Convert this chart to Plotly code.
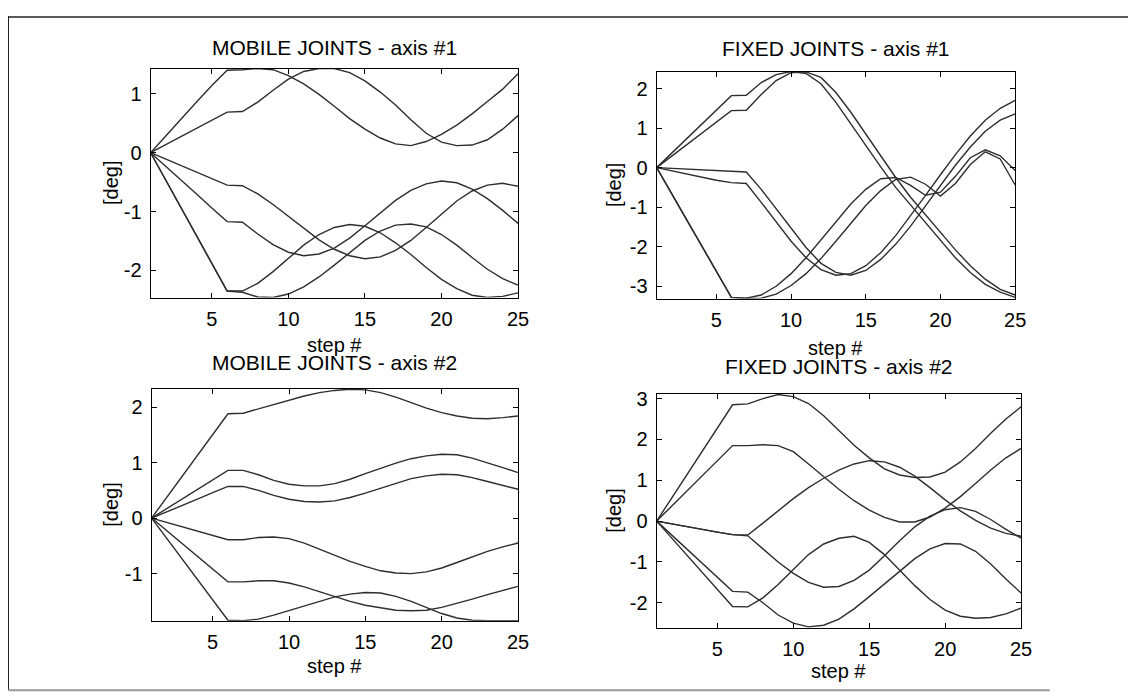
import plotly.graph_objects as go

# ---------------- data ----------------
steps = [1, 2, 3, 4, 5, 6, 7, 8, 9, 10, 11, 12, 13, 14, 15, 16, 17, 18, 19, 20, 21, 22, 23, 24, 25]
x_tick_vals = [5, 10, 15, 20, 25]
x_tick_text = ["5", "10", "15", "20", "25"]

# MOBILE JOINTS - axis #1
mob1_a = [0, 0.29, 0.57, 0.86, 1.14, 1.40, 1.41, 1.43, 1.41, 1.31, 1.17, 0.99, 0.79, 0.58, 0.40, 0.25, 0.15, 0.12, 0.19, 0.31, 0.47, 0.66, 0.87, 1.08, 1.34]
mob1_b = [0, 0.14, 0.28, 0.41, 0.55, 0.69, 0.70, 0.86, 1.06, 1.25, 1.38, 1.43, 1.43, 1.36, 1.22, 1.03, 0.81, 0.56, 0.33, 0.18, 0.12, 0.13, 0.22, 0.40, 0.63]
mob1_c = [0, -0.11, -0.22, -0.33, -0.44, -0.55, -0.56, -0.70, -0.88, -1.08, -1.29, -1.48, -1.64, -1.75, -1.80, -1.77, -1.66, -1.49, -1.27, -1.04, -0.82, -0.65, -0.55, -0.52, -0.57]
mob1_d = [0, -0.23, -0.47, -0.70, -0.94, -1.17, -1.18, -1.38, -1.56, -1.69, -1.75, -1.72, -1.62, -1.45, -1.24, -1.02, -0.81, -0.64, -0.53, -0.48, -0.51, -0.62, -0.78, -0.98, -1.20]
mob1_e = [0, -0.47, -0.94, -1.41, -1.88, -2.35, -2.35, -2.22, -2.02, -1.79, -1.57, -1.39, -1.27, -1.22, -1.25, -1.36, -1.53, -1.73, -1.95, -2.15, -2.31, -2.42, -2.46, -2.44, -2.38]
mob1_f = [0, -0.47, -0.94, -1.41, -1.88, -2.35, -2.37, -2.45, -2.46, -2.40, -2.28, -2.11, -1.91, -1.70, -1.49, -1.33, -1.23, -1.21, -1.26, -1.39, -1.57, -1.78, -1.98, -2.14, -2.25]

# FIXED JOINTS - axis #1
fix1_g1 = [0, 0.36, 0.73, 1.09, 1.46, 1.82, 1.83, 2.15, 2.35, 2.43, 2.38, 2.12, 1.65, 1.10, 0.55, 0.02, -0.50, -0.95, -1.40, -1.85, -2.28, -2.65, -2.95, -3.15, -3.28]
fix1_g2 = [0, 0.29, 0.58, 0.86, 1.15, 1.44, 1.45, 1.85, 2.20, 2.40, 2.42, 2.28, 1.90, 1.40, 0.85, 0.30, -0.25, -0.75, -1.20, -1.65, -2.08, -2.48, -2.82, -3.08, -3.22]
fix1_h1 = [0, -0.08, -0.16, -0.24, -0.32, -0.38, -0.40, -0.88, -1.38, -1.86, -2.28, -2.58, -2.72, -2.68, -2.48, -2.15, -1.72, -1.22, -0.70, -0.18, 0.33, 0.80, 1.20, 1.50, 1.70]
fix1_h2 = [0, -0.02, -0.04, -0.06, -0.08, -0.10, -0.11, -0.55, -1.05, -1.55, -2.02, -2.42, -2.65, -2.72, -2.60, -2.32, -1.94, -1.48, -0.97, -0.45, 0.06, 0.52, 0.92, 1.20, 1.36]
fix1_i1 = [0, -0.66, -1.32, -1.98, -2.64, -3.28, -3.30, -3.22, -3.00, -2.68, -2.28, -1.82, -1.36, -0.92, -0.55, -0.28, -0.25, -0.45, -0.70, -0.62, -0.22, 0.25, 0.45, 0.30, -0.07]
fix1_i2 = [0, -0.66, -1.32, -1.98, -2.64, -3.28, -3.31, -3.30, -3.20, -2.98, -2.68, -2.30, -1.86, -1.40, -0.96, -0.58, -0.30, -0.24, -0.42, -0.72, -0.40, 0.08, 0.40, 0.22, -0.44]

# MOBILE JOINTS - axis #2
mob2_j = [0, 0.38, 0.75, 1.13, 1.50, 1.88, 1.89, 1.97, 2.05, 2.13, 2.20, 2.26, 2.30, 2.32, 2.31, 2.26, 2.18, 2.08, 1.98, 1.90, 1.84, 1.80, 1.79, 1.81, 1.84]
mob2_k = [0, 0.17, 0.34, 0.52, 0.69, 0.86, 0.86, 0.78, 0.68, 0.61, 0.58, 0.58, 0.62, 0.70, 0.80, 0.90, 0.99, 1.07, 1.12, 1.15, 1.14, 1.08, 1.00, 0.91, 0.82]
mob2_l = [0, 0.11, 0.23, 0.34, 0.46, 0.57, 0.57, 0.50, 0.41, 0.34, 0.30, 0.29, 0.31, 0.37, 0.45, 0.54, 0.63, 0.71, 0.76, 0.79, 0.78, 0.73, 0.66, 0.59, 0.52]
mob2_m = [0, -0.08, -0.16, -0.24, -0.32, -0.39, -0.39, -0.35, -0.34, -0.37, -0.45, -0.56, -0.67, -0.78, -0.87, -0.95, -0.99, -1.00, -0.97, -0.90, -0.80, -0.70, -0.60, -0.52, -0.45]
mob2_n = [0, -0.23, -0.46, -0.69, -0.92, -1.15, -1.15, -1.13, -1.13, -1.17, -1.24, -1.33, -1.42, -1.50, -1.57, -1.62, -1.66, -1.67, -1.66, -1.61, -1.54, -1.46, -1.38, -1.30, -1.23]
mob2_o = [0, -0.37, -0.74, -1.10, -1.47, -1.84, -1.85, -1.82, -1.75, -1.67, -1.58, -1.50, -1.42, -1.37, -1.34, -1.35, -1.41, -1.50, -1.61, -1.72, -1.80, -1.84, -1.85, -1.85, -1.85]

# FIXED JOINTS - axis #2
fix2_p = [0, 0.57, 1.14, 1.71, 2.28, 2.85, 2.87, 3.00, 3.10, 3.05, 2.88, 2.58, 2.22, 1.86, 1.55, 1.28, 1.13, 1.07, 1.08, 1.20, 1.45, 1.78, 2.15, 2.50, 2.80]
fix2_q = [0, 0.37, 0.74, 1.11, 1.48, 1.85, 1.85, 1.87, 1.85, 1.70, 1.40, 1.08, 0.78, 0.50, 0.27, 0.09, -0.02, -0.02, 0.10, 0.32, 0.60, 0.92, 1.25, 1.55, 1.78]
fix2_r = [0, -0.07, -0.13, -0.20, -0.27, -0.33, -0.34, -0.05, 0.25, 0.55, 0.82, 1.05, 1.25, 1.40, 1.48, 1.45, 1.32, 1.10, 0.82, 0.52, 0.25, 0.02, -0.17, -0.30, -0.37]
fix2_s = [0, -0.07, -0.13, -0.20, -0.27, -0.33, -0.36, -0.68, -1.00, -1.28, -1.50, -1.62, -1.60, -1.45, -1.20, -0.85, -0.48, -0.14, 0.12, 0.28, 0.33, 0.24, 0.04, -0.20, -0.42]
fix2_t = [0, -0.34, -0.69, -1.03, -1.38, -1.72, -1.74, -2.00, -2.30, -2.50, -2.59, -2.55, -2.40, -2.15, -1.85, -1.55, -1.23, -0.92, -0.68, -0.55, -0.56, -0.74, -1.05, -1.42, -1.76]
fix2_u = [0, -0.42, -0.84, -1.25, -1.67, -2.09, -2.10, -1.88, -1.55, -1.18, -0.82, -0.56, -0.42, -0.37, -0.52, -0.82, -1.20, -1.58, -1.92, -2.18, -2.33, -2.38, -2.36, -2.27, -2.13]

titles = ["MOBILE JOINTS - axis #1", "FIXED JOINTS - axis #1",
          "MOBILE JOINTS - axis #2", "FIXED JOINTS - axis #2"]
y_ticks_mob1 = [-2, -1, 0, 1]
y_ticks_fix1 = [-3, -2, -1, 0, 1, 2]
y_ticks_mob2 = [-1, 0, 1, 2]
y_ticks_fix2 = [-2, -1, 0, 1, 2, 3]

# ---------------- layout helpers ----------------
W, H = 1136, 700
OFF = 8  # page body margin of the html page
FONT = "Liberation Sans, Arial, sans-serif"
FS = 20
FS_TITLE = 21
LINE_COLOR = "#2e2e2e"


def fx(p):
    return (p - OFF) / W


def fy(p):
    return 1 - (p - OFF) / H


panels = [
    dict(series=[mob1_a, mob1_b, mob1_c, mob1_d, mob1_e, mob1_f], title=titles[0],
         px=(152, 523), py=(63, 294), yr=(-2.46, 1.43), yt=y_ticks_mob1,
         title_y=42, step_y=342, deg_x=112),
    dict(series=[fix1_g1, fix1_g2, fix1_h1, fix1_h2, fix1_i1, fix1_i2], title=titles[1],
         px=(663, 1025), py=(66, 295), yr=(-3.31, 2.43), yt=y_ticks_fix1,
         title_y=43, step_y=345, deg_x=620),
    dict(series=[mob2_j, mob2_k, mob2_l, mob2_m, mob2_n, mob2_o], title=titles[2],
         px=(153, 523), py=(386, 620), yr=(-1.85, 2.33), yt=y_ticks_mob2,
         title_y=360, step_y=666, deg_x=112),
    dict(series=[fix2_p, fix2_q, fix2_r, fix2_s, fix2_t, fix2_u], title=titles[3],
         px=(663, 1031), py=(391, 627), yr=(-2.61, 3.12), yt=y_ticks_fix2,
         title_y=364, step_y=671, deg_x=620),
]

fig = go.Figure()
annotations = []
layout_axes = {}

for i, p in enumerate(panels, start=1):
    xa = "x" if i == 1 else f"x{i}"
    ya = "y" if i == 1 else f"y{i}"
    for s in p["series"]:
        fig.add_trace(go.Scatter(x=steps, y=s, mode="lines", xaxis=xa, yaxis=ya,
                                 line=dict(color=LINE_COLOR, width=1.4),
                                 showlegend=False, hoverinfo="skip"))
    common = dict(showline=True, linecolor="black", linewidth=1, mirror="allticks",
                  ticks="inside", ticklen=5, tickcolor="black", tickwidth=1,
                  showgrid=False, zeroline=False,
                  tickfont=dict(family=FONT, size=FS, color="black"))
    layout_axes["xaxis" if i == 1 else f"xaxis{i}"] = dict(
        domain=[fx(p["px"][0]), fx(p["px"][1])], anchor=ya, range=[1, 25],
        tickvals=x_tick_vals, ticktext=x_tick_text, ticklabelstandoff=3, **common)
    layout_axes["yaxis" if i == 1 else f"yaxis{i}"] = dict(
        domain=[fy(p["py"][1]), fy(p["py"][0])], anchor=xa, range=list(p["yr"]),
        tickvals=p["yt"], ticktext=[str(v) for v in p["yt"]], ticklabelstandoff=4, **common)
    cx = (p["px"][0] + p["px"][1]) / 2
    annotations.append(dict(text=p["title"], x=fx(cx), y=fy(p["title_y"]), xref="paper", yref="paper",
                            showarrow=False, xanchor="center", yanchor="middle",
                            font=dict(family=FONT, size=FS_TITLE, color="black")))
    annotations.append(dict(text="step #", x=fx(cx), y=fy(p["step_y"]), xref="paper", yref="paper",
                            showarrow=False, xanchor="center", yanchor="middle",
                            font=dict(family=FONT, size=FS, color="black")))
    annotations.append(dict(text="[deg]", x=fx(p["deg_x"]), y=fy((p["py"][0] + p["py"][1]) / 2),
                            xref="paper", yref="paper", textangle=-90,
                            showarrow=False, xanchor="center", yanchor="middle",
                            font=dict(family=FONT, size=FS, color="black")))

shapes = [
    dict(type="line", xref="paper", yref="paper", x0=fx(8), x1=1.0, y0=fy(11), y1=fy(11),
         line=dict(color="#222222", width=1.5)),
    dict(type="line", xref="paper", yref="paper", x0=fx(8), x1=fx(8), y0=fy(10), y1=fy(690),
         line=dict(color="#222222", width=2)),
    dict(type="line", xref="paper", yref="paper", x0=fx(8), x1=fx(1060), y0=fy(690), y1=fy(690),
         line=dict(color="#9a9a9a", width=2)),
]

fig.update_layout(width=W, height=H, margin=dict(l=0, r=0, t=0, b=0),
                  paper_bgcolor="white", plot_bgcolor="white",
                  annotations=annotations, shapes=shapes, **layout_axes)

fig.write_html("out.html")
